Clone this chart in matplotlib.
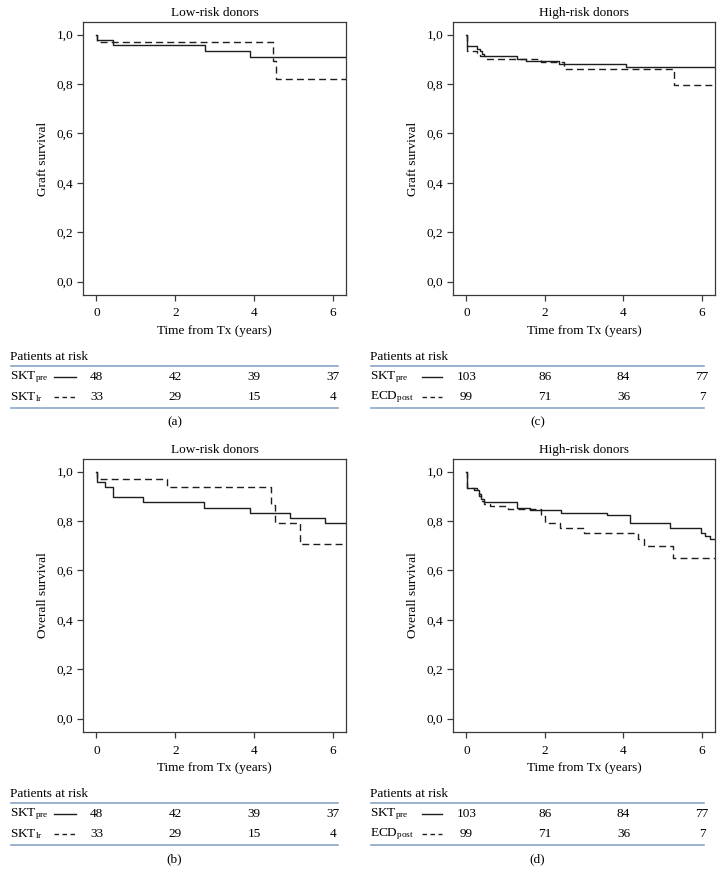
import matplotlib
matplotlib.use('Agg')
import matplotlib.pyplot as plt
from matplotlib.lines import Line2D
from matplotlib import transforms
from matplotlib.ticker import FuncFormatter

plt.rcParams['font.family'] = ['Liberation Serif', 'DejaVu Serif']
plt.rcParams['mathtext.fontset'] = 'custom'
plt.rcParams['mathtext.rm'] = 'Liberation Serif'
plt.rcParams['mathtext.it'] = 'Liberation Serif:italic'
plt.rcParams['font.size'] = 9.5

# ---------------- data ----------------
# (a) graft survival, low-risk donors
a_pre_t = [0, 0.02, 0.42, 2.75, 3.89, 6.4]
a_pre_s = [1.0, 0.979, 0.958, 0.935, 0.910, 0.910]
a_lr_t = [0, 0.02, 4.48, 4.55, 6.4]
a_lr_s = [1.0, 0.970, 0.895, 0.820, 0.820]

# (c) graft survival, high-risk donors
c_pre_t = [0, 0.02, 0.28, 0.35, 0.40, 0.45, 1.29, 1.52, 2.35, 4.07, 6.4]
c_pre_s = [1.0, 0.952, 0.942, 0.932, 0.922, 0.913, 0.903, 0.893, 0.883, 0.870, 0.870]
c_ecd_t = [0, 0.02, 0.28, 0.35, 0.49, 1.89, 2.48, 5.29, 6.4]
c_ecd_s = [1.0, 0.934, 0.924, 0.913, 0.902, 0.889, 0.861, 0.797, 0.797]

# (b) overall survival, low-risk donors
b_pre_t = [0, 0.02, 0.21, 0.42, 1.17, 2.72, 3.89, 4.91, 5.81, 6.4]
b_pre_s = [1.0, 0.958, 0.938, 0.896, 0.875, 0.854, 0.833, 0.812, 0.790, 0.790]
b_lr_t = [0, 0.02, 1.78, 4.44, 4.52, 5.16, 6.4]
b_lr_s = [1.0, 0.970, 0.939, 0.865, 0.793, 0.705, 0.705]

# (d) overall survival, high-risk donors
d_pre_t = [0, 0.02, 0.28, 0.33, 0.38, 0.45, 1.28, 1.62, 2.40, 3.59, 4.16, 5.19, 5.97, 6.08, 6.20, 6.4]
d_pre_s = [1.0, 0.935, 0.926, 0.908, 0.888, 0.875, 0.854, 0.845, 0.834, 0.823, 0.793, 0.773, 0.753, 0.740, 0.726, 0.726]
d_ecd_t = [0, 0.02, 0.20, 0.32, 0.38, 0.45, 0.60, 1.06, 1.89, 2.01, 2.39, 2.99, 4.38, 4.51, 5.27, 6.4]
d_ecd_s = [1.0, 0.932, 0.926, 0.902, 0.882, 0.870, 0.862, 0.850, 0.820, 0.790, 0.773, 0.753, 0.726, 0.700, 0.652, 0.652]

risk_times = [0, 2, 4, 6]
low_pre_risk = [48, 42, 39, 37]
low_lr_risk = [33, 29, 15, 4]
high_pre_risk = [103, 86, 84, 77]
high_ecd_risk = [99, 71, 36, 7]

xticks = [0, 2, 4, 6]
yticks = [0.0, 0.2, 0.4, 0.6, 0.8, 1.0]

lbl_pre = r'SKT$_{\mathrm{pre}}$'
lbl_lr = r'SKT$_{\mathrm{lr}}$'
lbl_ecd = r'ECD$_{\mathrm{post}}$'

# ---------------- layout ----------------
W, H = 724, 874
fig = plt.figure(figsize=(W / 100, H / 100), dpi=100)

def fy(py):
    return 1 - py / H

def fx(px):
    return px / W

SPINE = '#3a3a3a'
CURVE = '#1e1e1e'
TABLE_LINE = '#7f9cc2'

panels = [
    dict(left=83, right=346, top=22, bottom=295, title='Low-risk donors', ylabel='Graft survival',
         t1=a_pre_t, s1=a_pre_s, t2=a_lr_t, s2=a_lr_s, l1=lbl_pre, l2=lbl_lr,
         r1=low_pre_risk, r2=low_lr_risk, letter='(a)', tl=11, tr=338, lx=10, sx0=54, sx1=76),
    dict(left=453, right=715, top=22, bottom=295, title='High-risk donors', ylabel='Graft survival',
         t1=c_pre_t, s1=c_pre_s, t2=c_ecd_t, s2=c_ecd_s, l1=lbl_pre, l2=lbl_ecd,
         r1=high_pre_risk, r2=high_ecd_risk, letter='(c)', tl=371, tr=704, lx=370, sx0=422, sx1=442),
    dict(left=83, right=346, top=459, bottom=732, title='Low-risk donors', ylabel='Overall survival',
         t1=b_pre_t, s1=b_pre_s, t2=b_lr_t, s2=b_lr_s, l1=lbl_pre, l2=lbl_lr,
         r1=low_pre_risk, r2=low_lr_risk, letter='(b)', tl=11, tr=338, lx=10, sx0=54, sx1=76),
    dict(left=453, right=715, top=459, bottom=732, title='High-risk donors', ylabel='Overall survival',
         t1=d_pre_t, s1=d_pre_s, t2=d_ecd_t, s2=d_ecd_s, l1=lbl_pre, l2=lbl_ecd,
         r1=high_pre_risk, r2=high_ecd_risk, letter='(d)', tl=371, tr=704, lx=370, sx0=422, sx1=442),
]

comma = FuncFormatter(lambda v, p: ('%.1f' % v).replace('.', ','))

for p in panels:
    ax = fig.add_axes([fx(p['left']), fy(p['bottom']),
                       (p['right'] - p['left']) / W, (p['bottom'] - p['top']) / H])
    ax.step(p['t1'], p['s1'], where='post', color=CURVE, lw=1.0)
    ax.step(p['t2'], p['s2'], where='post', color=CURVE, lw=1.0, linestyle=(0, (5, 3)))
    ax.set_xlim(-0.34, 6.33)
    ax.set_ylim(-0.054, 1.051)
    ax.set_xticks(xticks)
    ax.set_yticks(yticks)
    ax.yaxis.set_major_formatter(comma)
    for s in ax.spines.values():
        s.set_color(SPINE)
        s.set_linewidth(0.9)
    ax.tick_params(direction='out', length=4, width=0.9, color=SPINE, labelsize=9.5, pad=3)
    ax.tick_params(axis='x', pad=5)
    ax.set_title(p['title'], fontsize=9.5, pad=4)
    ax.set_xlabel('Time from Tx (years)', fontsize=9.5, labelpad=4)
    ax.set_ylabel(p['ylabel'], fontsize=9.5)
    ax.yaxis.set_label_coords(-0.13, 0.5)

    b = p['bottom']
    # risk table
    fig.text(fx(p['lx']), fy(b + 62), 'Patients at risk', ha='left', va='center', fontsize=9.5)
    for yy in (b + 71, b + 113):
        fig.add_artist(Line2D([fx(p['tl']), fx(p['tr'])], [fy(yy), fy(yy)],
                              transform=fig.transFigure, color=TABLE_LINE, lw=1.1))
    tr = transforms.blended_transform_factory(ax.transData, fig.transFigure)
    for row, (lab, vals, ls) in enumerate([(p['l1'], p['r1'], '-'), (p['l2'], p['r2'], (0, (3.2, 2.6)))]):
        yy = b + 82 + 20 * row
        fig.text(fx(p['lx']), fy(yy), lab, ha='left', va='center', fontsize=9.5)
        fig.add_artist(Line2D([fx(p['sx0']), fx(p['sx1'])], [fy(yy), fy(yy)],
                              transform=fig.transFigure, color=CURVE, lw=1.0, linestyle=ls))
        for t, v in zip(risk_times, vals):
            fig.text(t, fy(yy), str(v), transform=tr, ha='center', va='center', fontsize=9.5)
    fig.text(fx((p['tl'] + p['tr']) / 2), fy(b + 127), p['letter'], ha='center', va='center', fontsize=9.5)

fig.savefig('out.png', dpi=100, facecolor='white')
